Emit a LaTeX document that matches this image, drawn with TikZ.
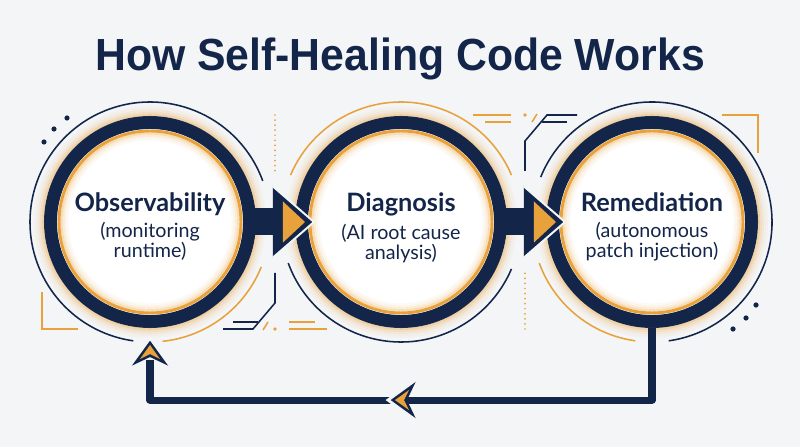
\documentclass[tikz,border=0pt]{standalone}
\usepackage{fontspec}
\setmainfont{Lato}
\newfontfamily\titlefont{Liberation Sans}
\usetikzlibrary{calc,positioning}

\definecolor{navy}{HTML}{13264A}
\definecolor{accent}{HTML}{E9A23B}
\definecolor{bg}{HTML}{F4F5F7}

\newcommand\stagename[1]{{\bfseries\fontsize{18}{18}\selectfont #1}}

\tikzset{
  heading/.style={text=navy, inner sep=0pt, font=\titlefont\bfseries\fontsize{32}{38}\selectfont},
  stage/.style={circle, draw=navy, line width=9.25pt, fill=white, minimum size=4.975cm, inner sep=0pt},
  caption/.style={align=center, text=navy, inner sep=0pt, anchor=north, font=\fontsize{14}{14}\selectfont},
  halo/.style={line width=1.1pt},
  flow/.style={navy, line width=19.2pt, shorten <=-3pt},
  backline/.style={navy, line width=5pt, line join=round},
  wire/.style={navy, line width=1.1pt},
  goldwire/.style={accent, line width=1.1pt},
  tri/.pic={
    \fill[navy] (0,0) -- (-41,35.5) -- (-41,-35.5) -- cycle;
    \draw[bg, line width=1.4pt] (-41,35.5) -- (0,0) -- (-41,-35.5);
    \fill[accent] (-9,0) -- (-31,20.5) -- (-31,-20.5) -- cycle;
  },
  head/.pic={
    \fill[navy] (0,0) -- (-29,21) -- (-19,0) -- (-29,-21) -- cycle;
    \draw[bg, line width=2pt] (-29,21) -- (0,0) -- (-29,-21);
    \fill[accent] (-7,0) -- (-21,10) -- (-16,0) -- (-21,-10) -- cycle;
  },
  wiring/.pic={
    \draw[accent, line width=1.4pt, line cap=round, dash pattern=on 0pt off 3.6pt] (0,107) -- (0,50);
    \draw[wire] (0,-51) -- (0,-81) -- (-22,-107) -- (-52,-107);
    \draw[wire] (-42,-100) -- (-17,-100);
    \draw[goldwire] (-12,-108) -- (-7,-100);
    \fill[accent] (0,-107) circle[radius=1.8];
    \draw[goldwire] (14,-100) -- (40,-100);
    \draw[goldwire] (14,-107) -- (52,-107);
  }
}

\begin{document}
\begin{tikzpicture}[x=0.025cm, y=0.025cm]
  \useasboundingbox (0,0) rectangle (800,447);
  \fill[bg] (0,0) rectangle (800,447);

  % title
  \node[heading, anchor=base] (title) at (400,376) {\scalebox{0.95}[1]{How Self-Healing Code Works}};

  % stages
  \node[stage] (obs) at (150,225) {};
  \node[stage] (diag) at (401,225) {};
  \node[stage] (rem) at (652,225) {};

  % glow round each ring
  \foreach \n in {obs,diag,rem}{
    \foreach \r/\o in {107/.4,109/.26,111/.15,113/.08,115/.04}
      \draw[accent, opacity=\o, line width=1.5pt] (\n.center) circle[radius=\r];
    \draw[accent, line width=2.1pt] (\n.center) circle[radius=91];
    \foreach \r/\o in {88.5/.35,86.5/.2,84.5/.1,82.5/.05}
      \draw[accent, opacity=\o, line width=1.5pt] (\n.center) circle[radius=\r];
  }

  % thin outer rings
  \draw[halo, navy] ([shift={(20:120)}]obs.center) arc[start angle=20, end angle=262, radius=120];
  \draw[halo, accent] ([shift={(-84:120)}]obs.center) arc[start angle=-84, end angle=-22, radius=120];
  \draw[halo, accent] ([shift={(23:120)}]diag.center) arc[start angle=23, end angle=157, radius=120];
  \draw[halo, navy] ([shift={(200:120)}]diag.center) arc[start angle=200, end angle=337, radius=120];
  \draw[halo, navy] ([shift={(158:120)}]rem.center) arc[start angle=158, end angle=-82, radius=120];
  \draw[halo, accent] ([shift={(200:120)}]rem.center) arc[start angle=200, end angle=262, radius=120];

  % captions
  \node[caption] (obs-text) at ([yshift=0.75cm]obs.center)
    {\stagename{Observability}\\[5pt](monitoring\\runtime)};
  \node[caption] (diag-text) at ([yshift=0.75cm]diag.center)
    {\stagename{Diagnosis}\\[5pt](AI root cause\\analysis)};
  \node[caption] (rem-text) at ([yshift=0.75cm]rem.center)
    {\stagename{Remediation}\\[5pt](autonomous\\patch injection)};

  % forward links
  \draw[flow] (obs.east) -- (diag.west);
  \draw[flow] (diag.east) -- (rem.west);
  \pic at ([xshift=0.475cm]diag.west) {tri};
  \pic at ([xshift=0.475cm]rem.west) {tri};

  % return loop
  \coordinate (backtip) at ([yshift=-0.25cm]obs.south);
  \coordinate (turnR) at ([yshift=-1.8cm]rem.south);
  \coordinate (turnL) at (turnR -| obs.south);
  \draw[backline, shorten >=0.55cm] (rem.south) -- (turnR) -- (turnL) -- (backtip);
  \pic[rotate=180] at ($(turnL)!0.5!(turnR)+(-13,0)$) {head};
  \pic[rotate=90] at (backtip) {head};

  % circuit traces, dots, corners
  \pic at (275,225) {wiring};
  \pic[rotate=180] at (525,225) {wiring};
  \foreach \p in {(44,305),(54,318),(67,329),(756,142),(746,129),(733,118)}
    \fill[navy] \p circle[radius=2.6];
  \draw[goldwire] (42,155) -- (42,118) -- (78,118);
  \draw[goldwire] (758,294) -- (758,332) -- (722,332);
\end{tikzpicture}
\end{document}
